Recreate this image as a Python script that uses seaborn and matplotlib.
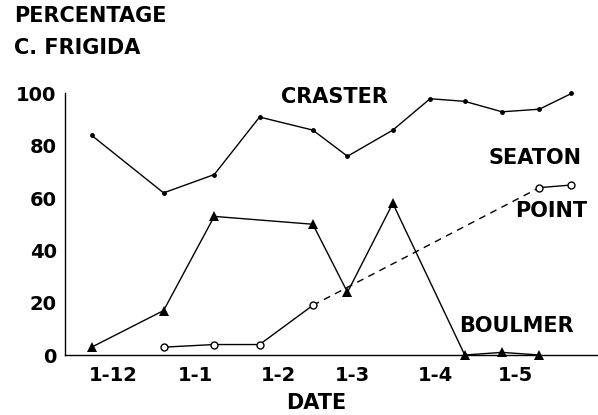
import matplotlib
matplotlib.use('Agg')
import matplotlib.pyplot as plt
import pandas as pd
import seaborn as sns

# sampling dates and % C. frigida at each site
craster_dates = ['1977-11-23', '1977-12-20', '1978-01-08', '1978-01-25', '1978-02-14', '1978-02-27',
                 '1978-03-16', '1978-03-30', '1978-04-12', '1978-04-26', '1978-05-10', '1978-05-22']
craster_pct = [84, 62, 69, 91, 86, 76, 86, 98, 97, 93, 94, 100]

boulmer_dates = ['1977-11-23', '1977-12-20', '1978-01-08', '1978-02-14', '1978-02-27',
                 '1978-03-16', '1978-04-12', '1978-04-26', '1978-05-10']
boulmer_pct = [3, 17, 53, 50, 24, 58, 0, 1, 0]

seaton_dates = ['1977-12-20', '1978-01-08', '1978-01-25', '1978-02-14', '1978-05-10', '1978-05-22']
seaton_pct = [3, 4, 4, 19, 64, 65]

tick_dates = ['1977-12-01', '1978-01-01', '1978-02-01', '1978-03-01', '1978-04-01', '1978-05-01']
tick_labels = ['1-12', '1-1', '1-2', '1-3', '1-4', '1-5']

sns.set_style('white')
plt.rcParams['font.family'] = ['DejaVu Sans']
plt.rcParams['font.weight'] = 'bold'
plt.rcParams['text.color'] = 'black'
plt.rcParams['xtick.color'] = 'black'
plt.rcParams['ytick.color'] = 'black'

df_c = pd.DataFrame({'date': pd.to_datetime(craster_dates), 'pct': craster_pct})
df_b = pd.DataFrame({'date': pd.to_datetime(boulmer_dates), 'pct': boulmer_pct})
df_s = pd.DataFrame({'date': pd.to_datetime(seaton_dates), 'pct': seaton_pct})

fig = plt.figure(figsize=(5.98, 4.15), dpi=100)
ax = fig.add_axes([65/598, 1-355/415, 533/598, 261.5/415])

lw = 1.0
sns.lineplot(data=df_c, x='date', y='pct', ax=ax, color='black', lw=lw,
             marker='o', markersize=3.5, markeredgewidth=0, clip_on=False)
sns.lineplot(data=df_b, x='date', y='pct', ax=ax, color='black', lw=lw,
             marker='^', markersize=6.5, markeredgewidth=0, clip_on=False)
# Seaton Point: solid, dashed gap (no samples), solid
sns.lineplot(data=df_s.iloc[:4], x='date', y='pct', ax=ax, color='black', lw=lw,
             marker='o', markersize=5, mfc='white', mec='black', markeredgewidth=1, clip_on=False)
sns.lineplot(data=df_s.iloc[3:5], x='date', y='pct', ax=ax, color='black', lw=lw,
             linestyle=(0, (5, 4)), clip_on=False, zorder=1)
sns.lineplot(data=df_s.iloc[4:], x='date', y='pct', ax=ax, color='black', lw=lw,
             marker='o', markersize=5, mfc='white', mec='black', markeredgewidth=1, clip_on=False)

ax.set_ylim(0, 100)
ax.set_xlim(pd.Timestamp('1977-11-13'), pd.Timestamp('1978-06-01'))
ax.set_yticks([0, 20, 40, 60, 80, 100])
ax.set_xticks(pd.to_datetime(tick_dates))
ax.set_xticklabels(tick_labels)
ax.tick_params(axis='both', direction='inout', length=6, width=1, labelsize=14, color='black',
               labelcolor='black')
ax.tick_params(axis='y', pad=3)
ax.tick_params(axis='x', pad=5)
ax.set_xlabel('')
ax.set_ylabel('')
for s in ['top', 'right']:
    ax.spines[s].set_visible(False)
for s in ['left', 'bottom']:
    ax.spines[s].set_color('black')
    ax.spines[s].set_linewidth(1.0)

fs = 15
ax.text(pd.Timestamp('1978-02-02'), 98.5, 'CRASTER', fontsize=fs, fontweight='bold', va='center', ha='left')
ax.text(pd.Timestamp('1978-04-21'), 75.5, 'SEATON', fontsize=fs, fontweight='bold', va='center', ha='left')
ax.text(pd.Timestamp('1978-05-01'), 55, 'POINT', fontsize=fs, fontweight='bold', va='center', ha='left')
ax.text(pd.Timestamp('1978-04-10'), 11.2, 'BOULMER', fontsize=fs, fontweight='bold', va='center', ha='left')

fig.text(14/598, 1-16/415, 'PERCENTAGE', fontsize=fs, fontweight='bold', va='center', ha='left')
fig.text(14/598, 1-48/415, 'C. FRIGIDA', fontsize=fs, fontweight='bold', va='center', ha='left')
fig.text(316/598, 1-403/415, 'DATE', fontsize=fs, fontweight='bold', va='center', ha='center')

fig.savefig('out.png', dpi=100)
